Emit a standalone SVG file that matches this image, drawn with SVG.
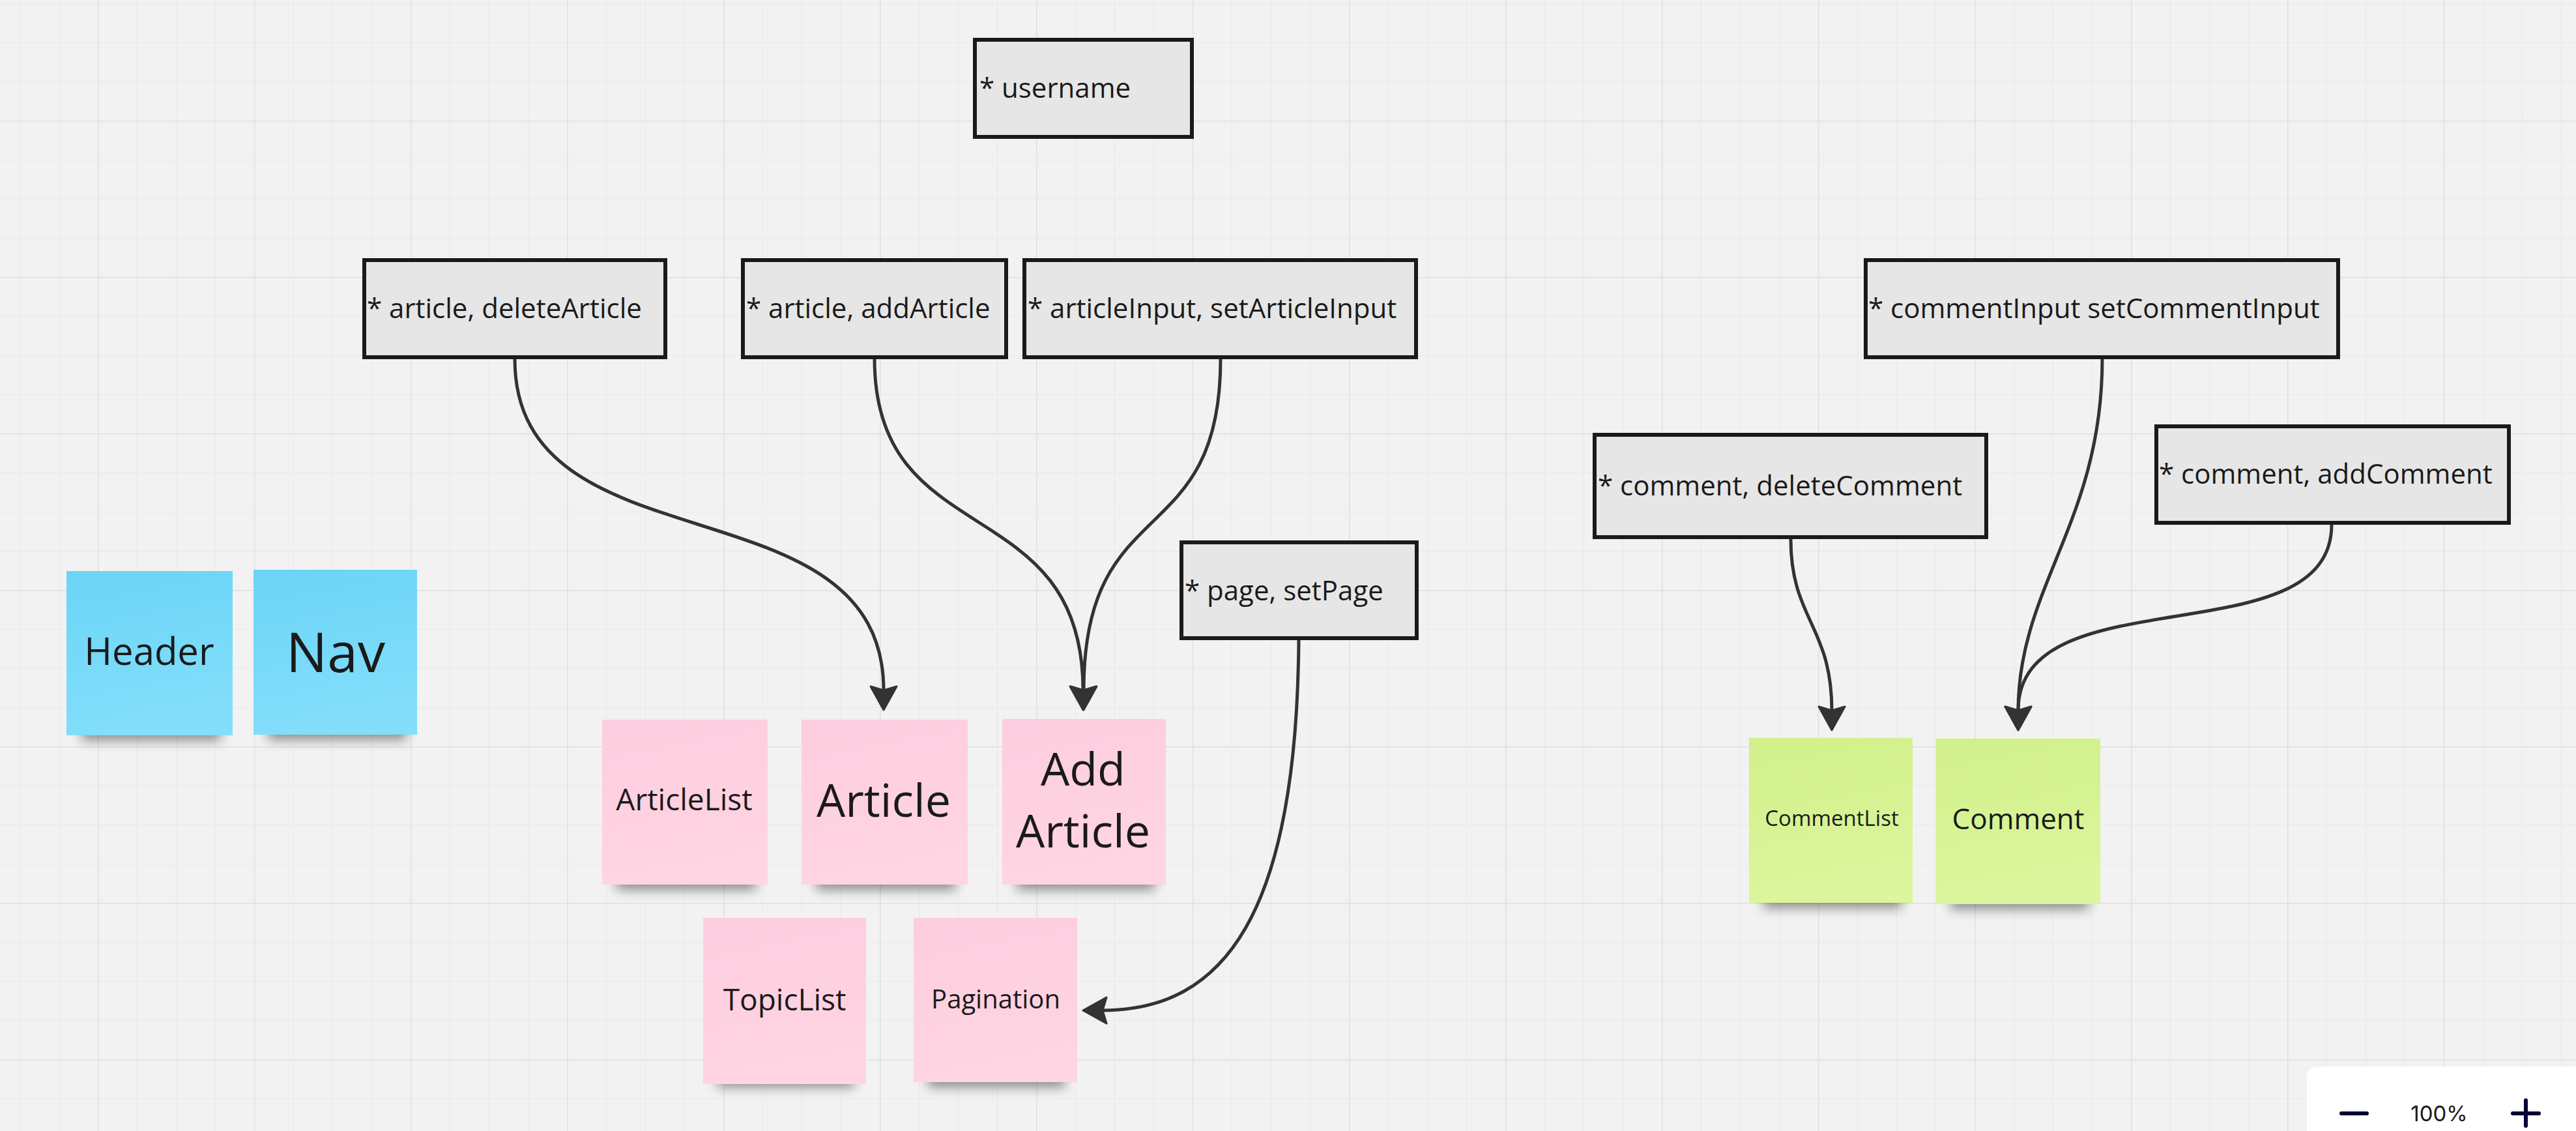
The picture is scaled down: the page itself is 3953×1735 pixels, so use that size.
<svg xmlns="http://www.w3.org/2000/svg" width="3953" height="1735" viewBox="0 0 3953 1735">
<style>
.box{fill:#e6e6e6;stroke:#1a1a1a;stroke-width:6}
.bt{font-family:"Open Sans","Noto Sans",sans-serif;font-size:42px;fill:#1a1a1a}
.nt{font-family:"Open Sans","Noto Sans",sans-serif;fill:#1a1a1a;text-anchor:middle}
.conn{fill:none;stroke:#333333;stroke-width:5;stroke-linecap:butt}
.sh{fill:#000;opacity:.42;filter:url(#blur)}
</style>
<defs>
<pattern id="minor" patternUnits="userSpaceOnUse" x="30" y="5" width="60" height="60">
<path d="M0,0 V60 M0,0 H60" stroke="#e9e9e9" stroke-width="2" fill="none"/>
</pattern>
<pattern id="major" patternUnits="userSpaceOnUse" x="150" y="185" width="240" height="240">
<path d="M0,0 V240 M0,0 H240" stroke="#dfdfdf" stroke-width="3" fill="none"/>
</pattern>
<linearGradient id="gBlue" x1="0" y1="0" x2="0.2" y2="1"><stop offset="0" stop-color="#6bd4f6"/><stop offset="1" stop-color="#82defb"/></linearGradient>
<linearGradient id="gPink" x1="0" y1="0" x2="0.2" y2="1"><stop offset="0" stop-color="#fdcddf"/><stop offset="1" stop-color="#ffd4e3"/></linearGradient>
<linearGradient id="gGreen" x1="0" y1="0" x2="0.2" y2="1"><stop offset="0" stop-color="#d1f08a"/><stop offset="1" stop-color="#dbf69c"/></linearGradient>
<filter id="blur" x="-20%" y="-100%" width="140%" height="300%"><feGaussianBlur stdDeviation="9"/></filter>
<marker id="arr" markerUnits="userSpaceOnUse" viewBox="0 0 42 46" markerWidth="42" markerHeight="46" refX="9" refY="23" orient="auto">
<path d="M39,23 L3,3 L9,23 L3,43 Z" fill="#333333" stroke="#333333" stroke-width="3" stroke-linejoin="round"/>
</marker>
</defs>
<rect x="0" y="0" width="3953" height="1735" fill="#f2f2f2"/>
<rect x="0" y="0" width="3953" height="1735" fill="url(#minor)"/>
<rect x="0" y="0" width="3953" height="1735" fill="url(#major)"/>

<g id="connectors">
<path class="conn" d="M790,551 C790,880 1356,730 1356,1059" marker-end="url(#arr)"/>
<path class="conn" d="M1342,551 C1342,850 1662,750 1662,1059" marker-end="url(#arr)"/>
<path class="conn" d="M1873,551 C1873,850 1663,750 1663,1059" marker-end="url(#arr)"/>
<path class="conn" d="M1993,982 C1990,1400 1880,1550 1692,1550" marker-end="url(#arr)"/>
<path class="conn" d="M2748,827 C2748,950 2811,960 2811,1090" marker-end="url(#arr)"/>
<path class="conn" d="M3226,551 C3226,800 3097,900 3097,1090" marker-end="url(#arr)"/>
<path class="conn" d="M3578,805 C3578,1010 3097,880 3097,1090" marker-end="url(#arr)"/>
</g>

<g id="n-username"><rect class="box" x="1496" y="61" width="333" height="149"/><text class="bt" x="1503" y="150">* username</text></g>
<g id="n-deleteArticle"><rect class="box" x="559" y="399" width="462" height="149"/><text class="bt" x="563" y="488">* article, deleteArticle</text></g>
<g id="n-addArticle"><rect class="box" x="1140" y="399" width="404" height="149"/><text class="bt" x="1145" y="488">* article, addArticle</text></g>
<g id="n-articleInput"><rect class="box" x="1572" y="399" width="601" height="149"/><text class="bt" x="1577" y="488">* articleInput, setArticleInput</text></g>
<g id="n-page"><rect class="box" x="1813" y="832" width="361" height="147"/><text class="bt" x="1818" y="921">* page, setPage</text></g>
<g id="n-commentInput"><rect class="box" x="2863" y="399" width="725" height="149"/><text class="bt" x="2867" y="488">* commentInput setCommentInput</text></g>
<g id="n-deleteComment"><rect class="box" x="2447" y="667" width="601" height="157"/><text class="bt" x="2452" y="760">* comment, deleteComment</text></g>
<g id="n-addComment"><rect class="box" x="3309" y="654" width="541" height="148"/><text class="bt" x="3313" y="742">* comment, addComment</text></g>

<g id="n-header"><rect class="sh" x="125" y="1104" width="214" height="32"/><rect x="102" y="876" width="255" height="252" fill="url(#gBlue)"/><text class="nt" x="229" y="1020" font-size="58">Header</text></g>
<g id="n-nav"><rect class="sh" x="411" y="1103" width="213" height="32"/><rect x="389" y="874" width="251" height="253" fill="url(#gBlue)"/><text class="nt" x="515" y="1031" font-size="84">Nav</text></g>

<g id="n-articleList"><rect class="sh" x="946" y="1333" width="214" height="32"/><rect x="924" y="1104" width="254" height="253" fill="url(#gPink)"/><text class="nt" x="1050" y="1243" font-size="46">ArticleList</text></g>
<g id="n-article"><rect class="sh" x="1252" y="1333" width="214" height="32"/><rect x="1230" y="1104" width="255" height="253" fill="url(#gPink)"/><text class="nt" x="1356" y="1253" font-size="70">Article</text></g>
<g id="n-addArticleNote"><rect class="sh" x="1560" y="1333" width="212" height="32"/><rect x="1538" y="1103" width="251" height="254" fill="url(#gPink)"/><text class="nt" x="1662" y="1205" font-size="70">Add</text><text class="nt" x="1662" y="1300" font-size="70">Article</text></g>
<g id="n-topicList"><rect class="sh" x="1101" y="1636" width="210" height="32"/><rect x="1079" y="1408" width="250" height="255" fill="url(#gPink)"/><text class="nt" x="1204" y="1550" font-size="46">TopicList</text></g>
<g id="n-pagination"><rect class="sh" x="1424" y="1636" width="210" height="32"/><rect x="1402" y="1408" width="251" height="252" fill="url(#gPink)"/><text class="nt" x="1528" y="1547" font-size="40">Pagination</text></g>

<g id="n-commentList"><rect class="sh" x="2706" y="1361" width="212" height="32"/><rect x="2684" y="1132" width="251" height="253" fill="url(#gGreen)"/><text class="nt" x="2811" y="1267" font-size="33">CommentList</text></g>
<g id="n-comment"><rect class="sh" x="2993" y="1363" width="212" height="32"/><rect x="2971" y="1133" width="252" height="254" fill="url(#gGreen)"/><text class="nt" x="3097" y="1272" font-size="44">Comment</text></g>

<g id="zoom-control">
<rect x="3540" y="1636" width="440" height="140" rx="16" fill="#ffffff"/>
<path d="M3593,1708 H3632" stroke="#050038" stroke-width="6" stroke-linecap="round"/>
<text x="3743" y="1720" font-family="Inter,Roboto,sans-serif" font-size="33" fill="#1a1a1a" text-anchor="middle">100%</text>
<path d="M3856,1708 H3896 M3876,1688 V1727" stroke="#050038" stroke-width="6" stroke-linecap="round"/>
</g>
</svg>
